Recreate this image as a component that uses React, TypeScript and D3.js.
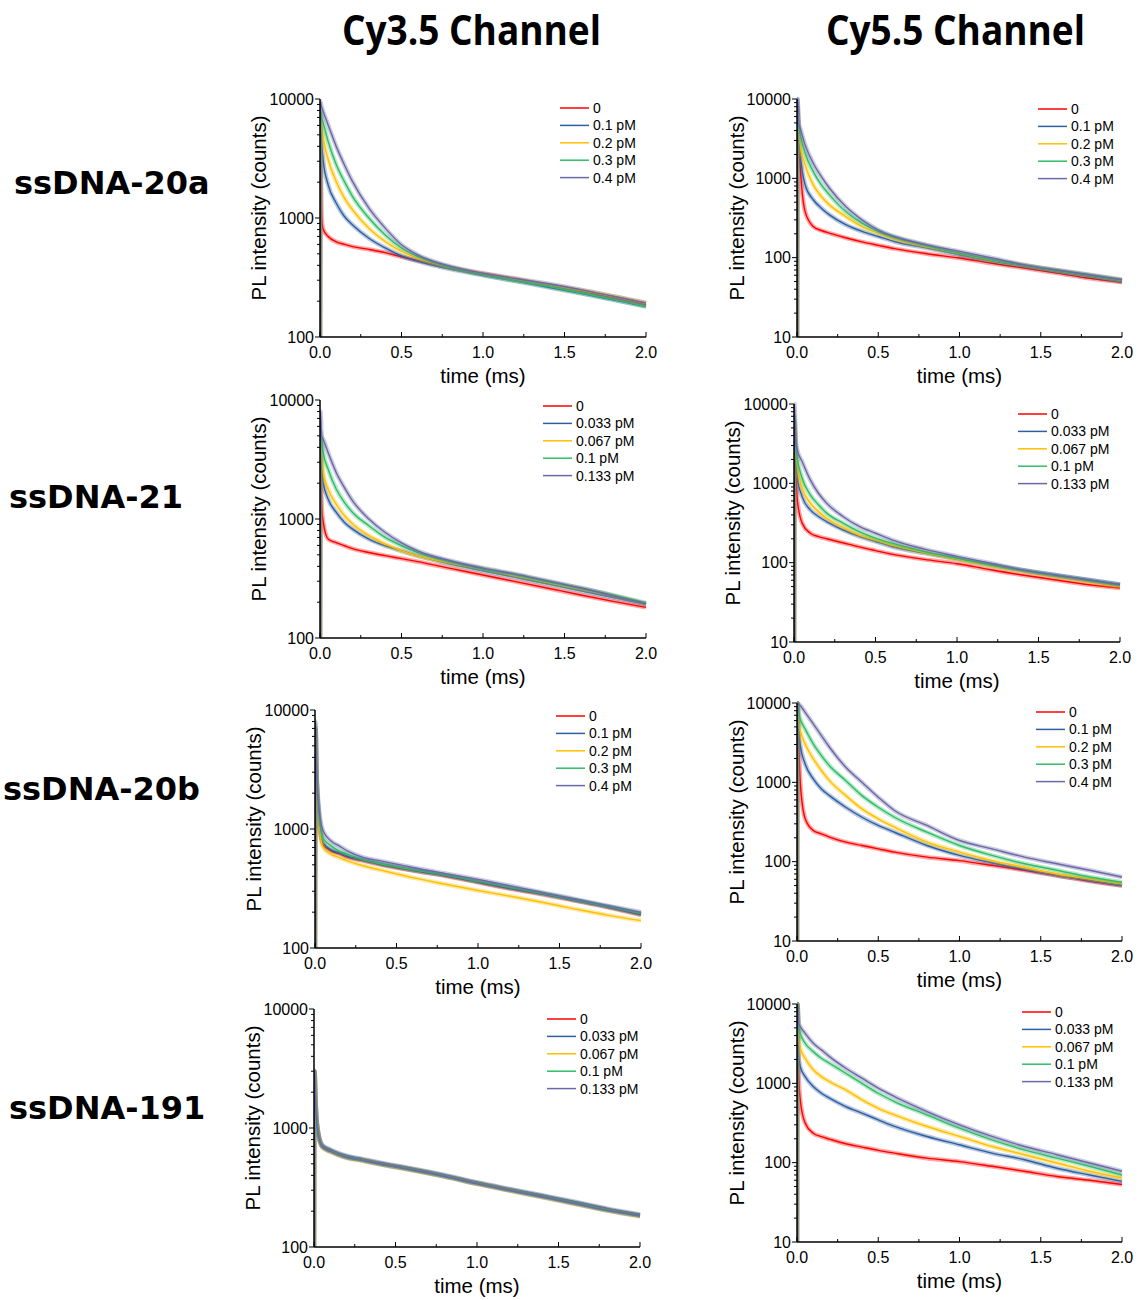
import React from 'react';
import * as d3 from 'd3';

// ---------- data ----------
const TIME = [0, 0.003, 0.01, 0.02, 0.05, 0.1, 0.15, 0.2, 0.3, 0.4, 0.5, 0.6, 0.8, 1.0, 1.2, 1.4, 1.6, 1.8, 2.0];
const SERIES_COLORS = ['#ff0000', '#2e5fa3', '#ffc000', '#2fbd68', '#6a68a6'];
const LEGEND_PM = ['0', '0.1 pM', '0.2 pM', '0.3 pM', '0.4 pM'];
const LEGEND_033 = ['0', '0.033 pM', '0.067 pM', '0.1 pM', '0.133 pM'];
const X_TICKS = [0, 0.5, 1.0, 1.5, 2.0];
const COLUMN_TITLES = ['Cy3.5 Channel', 'Cy5.5 Channel'];
const ROW_LABELS = ['ssDNA-20a', 'ssDNA-21', 'ssDNA-20b', 'ssDNA-191'];
const X_TITLE = 'time (ms)';
const Y_TITLE = 'PL intensity (counts)';

// Cy3.5, ssDNA-20a
const CY35_20A = [
  [100, 3600, 1000, 800, 700, 630, 600, 575, 545, 512, 472, 438, 382, 338, 305, 273, 242, 212, 187],
  [100, 5600, 4200, 3000, 1900, 1330, 1030, 875, 676, 560, 480, 435, 372, 330, 295, 262, 233, 205, 180],
  [100, 7800, 6000, 4700, 3100, 2020, 1470, 1170, 820, 635, 524, 460, 385, 340, 306, 275, 247, 220, 193],
  [100, 8000, 7000, 6250, 4400, 2800, 2020, 1515, 1000, 720, 560, 475, 385, 333, 297, 267, 235, 207, 181],
  [100, 9500, 8600, 7800, 6050, 3980, 2790, 2020, 1210, 822, 596, 490, 392, 343, 310, 280, 250, 220, 193],
];
// Cy5.5, ssDNA-20a
const CY55_20A = [
  [10, 8000, 3000, 1340, 380, 247, 220, 204, 178, 158, 143, 130, 112, 99, 85, 74, 64, 55, 49],
  [10, 10000, 3500, 1970, 826, 537, 421, 346, 260, 214, 185, 160, 132, 109, 90, 78, 67, 58, 50],
  [10, 6000, 4000, 2640, 1480, 826, 590, 463, 330, 247, 204, 173, 138, 114, 93, 80, 69, 60, 52],
  [10, 7000, 4500, 3520, 2070, 1217, 826, 618, 381, 272, 214, 180, 142, 114, 94, 80, 69, 60, 52],
  [10, 10000, 5000, 4270, 2640, 1550, 1050, 750, 441, 300, 224, 185, 145, 120, 99, 81, 70, 61, 53],
];
// Cy3.5, ssDNA-21
const CY35_21 = [
  [100, 3000, 1300, 935, 678, 632, 596, 563, 523, 492, 465, 438, 385, 338, 298, 262, 230, 203, 181],
  [100, 4500, 2790, 2020, 1466, 1135, 935, 822, 678, 596, 540, 490, 418, 367, 323, 284, 249, 219, 193],
  [100, 5000, 3390, 2450, 1780, 1330, 1064, 906, 724, 617, 540, 490, 426, 380, 334, 293, 258, 226, 193],
  [100, 5500, 4660, 3610, 2620, 1780, 1380, 1135, 877, 700, 596, 523, 437, 380, 340, 297, 262, 229, 197],
  [100, 8000, 5000, 4660, 3610, 2450, 1835, 1420, 1000, 770, 630, 540, 446, 387, 344, 302, 263, 226, 193],
];
// Cy5.5, ssDNA-21
const CY55_21 = [
  [10, 5000, 1800, 620, 315, 235, 213, 200, 178, 158, 142, 128, 110, 97, 82, 70, 61, 53, 48],
  [10, 6000, 2170, 1217, 680, 463, 382, 330, 260, 214, 185, 160, 132, 111, 94, 81, 70, 61, 53],
  [10, 6000, 2510, 1620, 870, 563, 440, 363, 280, 224, 194, 168, 134, 111, 92, 78, 67, 58, 50],
  [10, 7000, 3050, 2070, 1160, 715, 537, 421, 316, 247, 204, 176, 138, 114, 94, 80, 69, 60, 52],
  [10, 10000, 3520, 2640, 1880, 1105, 750, 563, 382, 286, 235, 194, 148, 120, 99, 81, 70, 61, 53],
];
// Cy3.5, ssDNA-20b
const CY35_20B = [
  [100, 7000, 2600, 1400, 740, 653, 620, 580, 540, 503, 473, 447, 403, 357, 314, 282, 249, 219, 190],
  [100, 7000, 2700, 1450, 760, 665, 630, 590, 548, 510, 480, 452, 408, 360, 318, 285, 252, 222, 192],
  [100, 7000, 2600, 1350, 697, 613, 575, 540, 489, 453, 420, 390, 343, 304, 272, 241, 212, 188, 170],
  [100, 7500, 2800, 1600, 841, 718, 653, 613, 550, 511, 481, 453, 411, 364, 322, 287, 252, 222, 195],
  [100, 8000, 3000, 1700, 960, 790, 718, 653, 575, 540, 507, 475, 422, 377, 333, 292, 257, 226, 200],
];
// Cy5.5, ssDNA-20b
const CY55_20B = [
  [10, 10000, 3520, 1000, 350, 247, 224, 204, 176, 160, 145, 132, 114, 103, 90, 78, 67, 57, 50],
  [10, 10000, 4270, 2900, 1700, 1105, 826, 680, 485, 363, 286, 235, 160, 120, 97, 80, 67, 58, 50],
  [10, 10000, 5710, 4470, 3050, 1990, 1410, 1050, 680, 463, 347, 272, 176, 132, 103, 85, 70, 61, 53],
  [10, 10000, 7630, 6290, 4710, 3050, 2170, 1620, 1050, 680, 485, 363, 235, 160, 120, 94, 78, 64, 55],
  [10, 10000, 9700, 9300, 7630, 5450, 3880, 2770, 1550, 1000, 650, 441, 286, 185, 145, 114, 94, 78, 64],
];
// Cy3.5, ssDNA-191
const CY35_191 = [
  [100, 3000, 1600, 1015, 710, 647, 607, 575, 540, 507, 478, 452, 398, 345, 304, 268, 236, 207, 185],
  [100, 3000, 1650, 1040, 725, 660, 615, 585, 548, 513, 485, 458, 404, 350, 308, 272, 240, 210, 188],
  [100, 3000, 1550, 1000, 690, 630, 590, 560, 528, 495, 468, 442, 390, 338, 298, 262, 230, 202, 180],
  [100, 3000, 1600, 1010, 700, 640, 598, 568, 535, 500, 472, 446, 393, 341, 300, 265, 233, 204, 183],
  [100, 3000, 1580, 1005, 695, 635, 595, 565, 532, 498, 470, 444, 391, 339, 298, 263, 231, 202, 182],
];
// Cy5.5, ssDNA-191
const CY55_191 = [
  [10, 10000, 1340, 617, 316, 235, 213, 198, 173, 157, 143, 132, 114, 103, 90, 78, 67, 60, 53],
  [10, 10000, 2170, 1620, 1217, 910, 750, 650, 509, 421, 347, 286, 214, 168, 132, 109, 85, 70, 58],
  [10, 10000, 3520, 2770, 2070, 1480, 1217, 1050, 826, 618, 485, 400, 286, 214, 160, 126, 99, 78, 64],
  [10, 10000, 5190, 4270, 3200, 2510, 2070, 1790, 1340, 1000, 750, 590, 400, 272, 194, 145, 114, 90, 70],
  [10, 10000, 5710, 5190, 4270, 3200, 2640, 2170, 1550, 1160, 870, 680, 441, 300, 214, 160, 126, 99, 78],
];

// ---------- layout ----------
const PANELS = [
  { data: CY35_20A, legend: LEGEND_PM, yMin: 100, x0: 320, x1: 646, y0: 99, y1: 337, lgX: 560, lgY: 108, ylx: 259 },
  { data: CY55_20A, legend: LEGEND_PM, yMin: 10, x0: 797, x1: 1122, y0: 99, y1: 337, lgX: 1038, lgY: 109, ylx: 737 },
  { data: CY35_21, legend: LEGEND_033, yMin: 100, x0: 320, x1: 646, y0: 400, y1: 638, lgX: 543, lgY: 406, ylx: 259 },
  { data: CY55_21, legend: LEGEND_033, yMin: 10, x0: 794, x1: 1120, y0: 404, y1: 642, lgX: 1018, lgY: 414, ylx: 733 },
  { data: CY35_20B, legend: LEGEND_PM, yMin: 100, x0: 315, x1: 641, y0: 710, y1: 948, lgX: 556, lgY: 716, ylx: 254 },
  { data: CY55_20B, legend: LEGEND_PM, yMin: 10, x0: 797, x1: 1122, y0: 703, y1: 941, lgX: 1036, lgY: 712, ylx: 737 },
  { data: CY35_191, legend: LEGEND_033, yMin: 100, x0: 314, x1: 640, y0: 1009, y1: 1247, lgX: 547, lgY: 1019, ylx: 253 },
  { data: CY55_191, legend: LEGEND_033, yMin: 10, x0: 797, x1: 1122, y0: 1004, y1: 1242, lgX: 1022, lgY: 1012, ylx: 737 },
];
const ROW_LABEL_POS = [
  { x: 14, y: 194 },
  { x: 9, y: 508 },
  { x: 3, y: 800 },
  { x: 9, y: 1119 },
];
const TITLE_POS = [
  { x: 342, w: 259 },
  { x: 826, w: 259 },
];

const AXIS_FONT = '"Liberation Sans", Arial, sans-serif';

function Panel({ p, idx }: { p: any; idx: number }) {
  const x = d3.scaleLinear().domain([0, 2]).range([p.x0, p.x1]);
  const y = d3.scaleLog().domain([p.yMin, 10000]).range([p.y1, p.y0]);
  const line = d3
    .line<number>()
    .x((_, i) => x(TIME[i]))
    .y((d) => y(d))
    .curve(d3.curveMonotoneX);
  const yTicks = y.ticks();
  const xMinor = d3.range(0, 2.0001, 0.25);
  const clipId = `clip${idx}`;
  const midY = (p.y0 + p.y1) / 2 - 10;
  return (
    <g>
      <defs>
        <clipPath id={clipId}>
          <rect x={p.x0} y={p.y0 - 2} width={p.x1 - p.x0 + 2} height={p.y1 - p.y0 + 2} />
        </clipPath>
      </defs>
      <g clipPath={`url(#${clipId})`}>
        {p.data.map((s: number[], i: number) => (
          <g key={i}>
            <path d={line(s) || ''} fill="none" stroke={SERIES_COLORS[i]} strokeOpacity={0.35} strokeWidth={4.5} strokeLinejoin="round" />
            <path d={line(s) || ''} fill="none" stroke={SERIES_COLORS[i]} strokeWidth={1.4} strokeLinejoin="round" />
          </g>
        ))}
      </g>
      {/* axes */}
      <line x1={p.x0} x2={p.x0} y1={p.y0} y2={p.y1} stroke="#000" strokeWidth={1.5} />
      <line x1={p.x0} x2={p.x1} y1={p.y1} y2={p.y1} stroke="#000" strokeWidth={1.5} />
      {yTicks.map((t, i) => {
        const major = Math.abs(Math.log10(t) - Math.round(Math.log10(t))) < 1e-6;
        return (
          <line key={'yt' + i} x1={p.x0} x2={p.x0 - (major ? 5 : 3)} y1={y(t)} y2={y(t)} stroke="#000" strokeWidth={1} />
        );
      })}
      {yTicks
        .filter((t) => Math.abs(Math.log10(t) - Math.round(Math.log10(t))) < 1e-6)
        .map((t, i) => (
          <text key={'yl' + i} x={p.x0 - 6} y={y(t) + 5.7} textAnchor="end" fontFamily={AXIS_FONT} fontSize={16} fill="#000">
            {String(Math.round(t))}
          </text>
        ))}
      {xMinor.map((t, i) => {
        const major = Math.abs(t * 2 - Math.round(t * 2)) < 1e-6;
        return (
          <line key={'xt' + i} x1={x(t)} x2={x(t)} y1={p.y1} y2={p.y1 - (major ? 5 : 3)} stroke="#000" strokeWidth={1} />
        );
      })}
      {X_TICKS.map((t, i) => (
        <text key={'xl' + i} x={x(t)} y={p.y1 + 21} textAnchor="middle" fontFamily={AXIS_FONT} fontSize={16} fill="#000">
          {t.toFixed(1)}
        </text>
      ))}
      <text x={(p.x0 + p.x1) / 2} y={p.y1 + 46} textAnchor="middle" fontFamily={AXIS_FONT} fontSize={20.5} fill="#000">
        {X_TITLE}
      </text>
      <text
        transform={`translate(${p.ylx + 7},${midY}) rotate(-90)`}
        textAnchor="middle"
        fontFamily={AXIS_FONT}
        fontSize={20.5}
        fill="#000"
      >
        {Y_TITLE}
      </text>
      {/* legend */}
      {p.legend.map((lab: string, i: number) => {
        const ly = p.lgY + i * 17.4;
        return (
          <g key={'lg' + i}>
            <line x1={p.lgX} x2={p.lgX + 29} y1={ly} y2={ly} stroke={SERIES_COLORS[i]} strokeWidth={1.5} />
            <text x={p.lgX + 33} y={ly + 5} fontFamily={AXIS_FONT} fontSize={14} fill="#000">
              {lab}
            </text>
          </g>
        );
      })}
    </g>
  );
}

export default function App() {
  return (
    <svg
      width={1139}
      height={1300}
      viewBox="0 0 1139 1300"
      style={{ position: 'absolute', left: 0, top: 0, background: '#fff' }}
    >
      <rect x={0} y={0} width={1139} height={1300} fill="#fff" />
      {COLUMN_TITLES.map((t, i) => (
        <text
          key={t}
          x={TITLE_POS[i].x}
          y={45}
          textLength={TITLE_POS[i].w}
          lengthAdjust="spacingAndGlyphs"
          fontFamily='"Liberation Sans Narrow", "Open Sans", sans-serif'
          fontWeight="bold"
          fontSize={42}
          fill="#000"
        >
          {t}
        </text>
      ))}
      {ROW_LABELS.map((t, i) => (
        <text
          key={t}
          x={ROW_LABEL_POS[i].x}
          y={ROW_LABEL_POS[i].y}
          fontFamily='"DejaVu Sans", Verdana, sans-serif'
          fontWeight="bold"
          fontSize={32}
          fill="#000"
        >
          {t}
        </text>
      ))}
      {PANELS.map((p, i) => (
        <Panel key={i} p={p} idx={i} />
      ))}
    </svg>
  );
}
